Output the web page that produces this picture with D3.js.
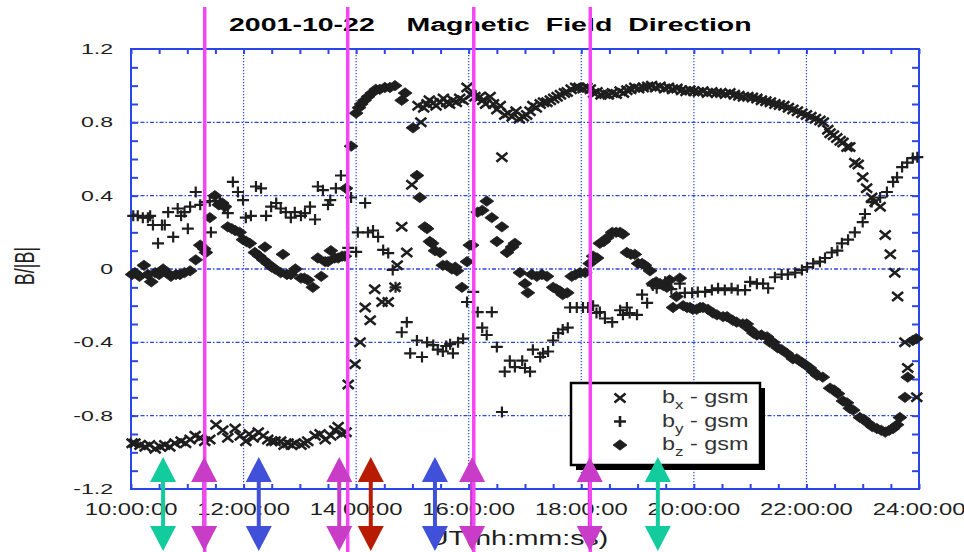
<!DOCTYPE html>
<html>
<head>
<meta charset="utf-8">
<script src="https://cdn.jsdelivr.net/npm/d3@7"></script>
<style>
  body { margin: 0; background: #fff; }
  svg { display: block; font-family: "Liberation Sans", Arial, sans-serif; }
</style>
</head>
<body>
<div id="chart"></div>
<script>
// data: [hour UT, B/|B|]
const bx = [
  [10.02,-0.95],[10.07,-0.95],[10.16,-0.96],[10.25,-0.97],[10.33,-0.96],[10.43,-0.98],[10.52,-0.97],[10.60,-0.96],
  [10.69,-0.97],[10.78,-0.95],[10.89,-0.94],[10.97,-0.95],[11.05,-0.93],[11.14,-0.91],[11.23,-0.92],[11.31,-0.94],
  [11.40,-0.93],[11.51,-0.85],[11.63,-0.88],[11.72,-0.92],[11.85,-0.87],[11.94,-0.91],[12.04,-0.94],[12.10,-0.90],
  [12.17,-0.92],[12.26,-0.89],[12.35,-0.91],[12.43,-0.93],[12.50,-0.94],[12.56,-0.94],[12.66,-0.94],[12.72,-0.96],
  [12.79,-0.95],[12.85,-0.96],[12.91,-0.95],[13.02,-0.96],[13.08,-0.95],[13.14,-0.94],[13.27,-0.91],[13.36,-0.90],
  [13.45,-0.93],[13.55,-0.91],[13.62,-0.88],[13.68,-0.86],[13.75,-0.90],[13.82,-0.89],
  [13.86,-0.63],[13.98,-0.52],[14.07,-0.40],[14.16,-0.21],[14.25,-0.28],[14.33,-0.11],[14.46,-0.18],[14.57,-0.18],
  [14.69,-0.10],[14.73,0.02],[14.81,0.23],[14.90,0.09],[14.99,0.46],[15.10,0.89],[15.15,0.80],[15.20,0.88],
  [15.26,0.90],[15.30,0.92],[15.37,0.905],[15.42,0.89],[15.49,0.91],[15.55,0.93],[15.61,0.91],[15.66,0.90],
  [15.72,0.92],[15.78,0.91],[15.84,0.93],[15.90,0.92],[15.97,0.99],[16.04,0.95],[16.11,0.94],[16.20,0.94],
  [16.25,0.92],[16.30,0.90],[16.38,0.94],[16.44,0.90],[16.50,0.87],[16.56,0.89],[16.59,0.61],[16.64,0.84],
  [16.70,0.85],[16.77,0.83],[16.84,0.86],[16.90,0.82],[16.97,0.83],[17.03,0.84],[17.09,0.86],[17.14,0.89],
  [17.20,0.88],[17.27,0.90],[17.33,0.91],[17.39,0.91],[17.45,0.92],[17.51,0.93],[17.57,0.94],[17.63,0.95],
  [17.70,0.96],[17.75,0.965],[17.82,0.98],[17.90,0.99],[17.96,0.99],[18.03,0.985],[18.10,0.99],[18.16,0.98],
  [18.22,0.96],[18.28,0.965],[18.35,0.95],[18.42,0.955],[18.48,0.95],[18.55,0.96],[18.62,0.955],[18.69,0.97],
  [18.75,0.96],[18.81,0.975],[18.88,0.98],[18.95,0.99],[19.02,0.985],[19.10,0.99],[19.18,0.995],[19.25,1.0],
  [19.32,0.99],[19.40,0.995],[19.48,0.985],[19.55,0.99],[19.62,0.98],[19.70,0.985],[19.78,0.975],[19.86,0.97],
  [19.93,0.975],[20.00,0.97],[20.08,0.965],[20.16,0.97],[20.24,0.96],[20.32,0.965],[20.40,0.96],[20.48,0.96],
  [20.56,0.955],[20.64,0.96],[20.72,0.95],[20.80,0.945],[20.88,0.94],[20.96,0.94],[21.04,0.935],[21.12,0.93],
  [21.20,0.92],[21.28,0.915],[21.36,0.91],[21.44,0.90],[21.52,0.895],[21.60,0.89],[21.68,0.88],[21.76,0.87],
  [21.84,0.86],[21.92,0.85],[22.00,0.84],[22.08,0.83],[22.16,0.82],[22.24,0.81],[22.30,0.80],[22.38,0.76],
  [22.42,0.74],[22.48,0.73],[22.54,0.715],[22.60,0.70],[22.65,0.69],[22.72,0.665],[22.77,0.665],[22.86,0.58],
  [22.92,0.57],[23.00,0.50],[23.07,0.44],[23.16,0.39],[23.22,0.365],[23.31,0.34],[23.40,0.185],[23.49,0.08],
  [23.57,-0.02],[23.62,-0.15],[23.75,-0.40],[23.80,-0.54],[23.96,-0.70]
];

const by = [
  [10.04,0.29],[10.12,0.29],[10.21,0.28],[10.30,0.28],[10.34,0.29],[10.39,0.24],[10.48,0.14],[10.55,0.24],
  [10.60,0.24],[10.66,0.31],[10.75,0.175],[10.83,0.33],[10.89,0.29],[10.95,0.31],[11.01,0.22],[11.05,0.34],
  [11.15,0.42],[11.23,0.35],[11.31,0.365],[11.40,0.37],[11.42,0.20],[11.50,0.37],[11.58,0.365],[11.65,0.33],
  [11.72,0.305],[11.81,0.475],[11.90,0.42],[11.99,0.376],[12.04,0.28],[12.13,0.29],[12.22,0.45],[12.31,0.44],
  [12.40,0.29],[12.49,0.34],[12.58,0.36],[12.66,0.33],[12.75,0.31],[12.84,0.28],[12.91,0.31],[13.02,0.29],
  [13.09,0.305],[13.18,0.34],[13.27,0.27],[13.32,0.45],[13.41,0.43],[13.50,0.35],[13.54,0.376],[13.64,0.44],
  [13.73,0.51],[13.86,0.115],[13.91,0.39],[14.00,0.093],[14.03,0.20],[14.16,0.36],[14.21,0.20],[14.30,0.21],
  [14.39,0.175],[14.48,0.104],[14.57,0.087],[14.65,-0.005],[14.70,-0.10],[14.81,-0.345],[14.90,-0.29],[14.96,-0.46],
  [15.08,-0.39],[15.17,-0.48],[15.26,-0.40],[15.37,-0.415],[15.45,-0.44],[15.54,-0.45],[15.60,-0.42],[15.67,-0.41],
  [15.72,-0.46],[15.81,-0.40],[15.90,-0.38],[15.97,-0.18],[16.08,-0.125],[16.16,-0.235],[16.24,-0.32],[16.32,-0.36],
  [16.41,-0.235],[16.50,-0.425],[16.59,-0.78],[16.64,-0.56],[16.73,-0.50],[16.82,-0.535],[16.95,-0.50],[17.00,-0.54],
  [17.09,-0.56],[17.14,-0.44],[17.27,-0.48],[17.32,-0.46],[17.41,-0.45],[17.50,-0.39],[17.59,-0.35],[17.67,-0.33],
  [17.76,-0.32],[17.80,-0.21],[17.92,-0.21],[18.03,-0.21],[18.12,-0.21],[18.21,-0.20],[18.27,-0.24],[18.33,-0.235],
  [18.42,-0.27],[18.55,-0.29],[18.69,-0.225],[18.74,-0.25],[18.81,-0.21],[18.86,-0.24],[18.99,-0.25],[19.08,-0.14],
  [19.17,-0.185],[19.27,-0.09],[19.34,-0.105],[19.49,-0.07],[19.60,-0.11],[19.75,-0.08],[19.84,-0.13],[19.97,-0.13],
  [20.07,-0.125],[20.20,-0.125],[20.32,-0.115],[20.43,-0.105],[20.55,-0.115],[20.67,-0.105],[20.78,-0.115],[20.91,-0.115],
  [21.00,-0.07],[21.12,-0.08],[21.23,-0.08],[21.32,-0.105],[21.44,-0.045],[21.56,-0.03],[21.67,-0.03],[21.80,-0.02],
  [21.92,-0.005],[22.01,0.01],[22.12,0.03],[22.24,0.04],[22.33,0.06],[22.45,0.09],[22.55,0.10],[22.63,0.14],
  [22.74,0.16],[22.86,0.20],[23.00,0.256],[23.04,0.30],[23.16,0.365],[23.31,0.39],[23.43,0.42],[23.54,0.475],
  [23.61,0.50],[23.70,0.556],[23.79,0.58],[23.89,0.605],[23.97,0.61]
];

const bz = [
  [10.02,-0.03],[10.07,-0.02],[10.15,-0.04],[10.23,0.02],[10.30,-0.03],[10.36,-0.07],[10.43,-0.02],[10.50,-0.03],
  [10.57,0.00],[10.64,-0.02],[10.71,-0.04],[10.80,-0.03],[10.87,-0.03],[10.95,-0.02],[11.05,-0.01],[11.15,0.05],
  [11.23,0.13],[11.30,0.11],[11.33,0.09],[11.40,0.28],[11.49,0.40],[11.56,0.35],[11.62,0.36],[11.67,0.34],
  [11.72,0.23],[11.79,0.22],[11.85,0.21],[11.93,0.20],[11.99,0.16],[12.05,0.15],[12.11,0.14],[12.20,0.09],
  [12.28,0.07],[12.35,0.05],[12.38,0.12],[12.43,0.03],[12.50,0.01],[12.56,0.00],[12.66,-0.02],[12.70,0.08],
  [12.77,-0.03],[12.84,-0.03],[12.92,0.00],[13.02,-0.05],[13.08,-0.05],[13.14,-0.06],[13.23,-0.10],[13.32,0.06],
  [13.38,-0.04],[13.45,0.04],[13.50,0.04],[13.55,0.10],[13.62,0.06],[13.68,0.06],[13.75,0.07],[13.80,0.07],
  [13.82,0.44],[13.91,0.67],[14.00,0.85],[14.05,0.88],[14.09,0.90],[14.15,0.92],[14.21,0.94],[14.28,0.96],
  [14.35,0.98],[14.42,0.98],[14.51,0.99],[14.60,0.99],[14.69,1.00],[14.81,0.92],[14.87,0.96],[15.01,0.77],
  [15.08,0.51],[15.13,0.39],[15.22,0.23],[15.26,0.22],[15.31,0.15],[15.35,0.14],[15.40,0.10],[15.49,0.09],
  [15.54,0.02],[15.61,0.02],[15.70,0.00],[15.76,0.01],[15.79,-0.01],[15.88,-0.10],[15.97,0.04],[16.02,0.13],
  [16.06,0.13],[16.16,0.31],[16.24,0.32],[16.32,0.37],[16.41,0.28],[16.50,0.15],[16.59,0.23],[16.68,0.09],
  [16.77,0.12],[16.82,0.14],[16.91,-0.02],[17.00,-0.08],[17.05,-0.13],[17.12,-0.03],[17.21,-0.04],[17.30,-0.03],
  [17.39,-0.04],[17.50,-0.10],[17.56,-0.11],[17.62,-0.12],[17.67,-0.14],[17.75,-0.13],[17.83,-0.04],[17.90,-0.03],
  [17.98,-0.02],[18.07,-0.02],[18.15,0.03],[18.21,0.07],[18.28,0.06],[18.33,0.14],[18.40,0.15],[18.46,0.17],
  [18.55,0.20],[18.62,0.20],[18.69,0.20],[18.74,0.19],[18.81,0.09],[18.88,0.08],[18.95,0.08],[19.01,0.03],
  [19.08,0.03],[19.13,0.02],[19.22,-0.01],[19.27,-0.08],[19.33,-0.07],[19.40,-0.08],[19.46,-0.09],[19.52,-0.10],
  [19.57,-0.06],[19.63,-0.21],[19.69,-0.15],[19.75,-0.05],[19.81,-0.20],[19.88,-0.21],[19.93,-0.21],[19.98,-0.22],
  [20.05,-0.22],[20.11,-0.21],[20.16,-0.21],[20.25,-0.22],[20.34,-0.24],[20.41,-0.25],[20.52,-0.26],[20.59,-0.26],
  [20.69,-0.28],[20.76,-0.29],[20.87,-0.30],[20.94,-0.30],[21.00,-0.33],[21.06,-0.35],[21.12,-0.36],[21.20,-0.36],
  [21.30,-0.37],[21.35,-0.40],[21.41,-0.40],[21.49,-0.43],[21.56,-0.44],[21.65,-0.46],[21.76,-0.49],[21.83,-0.49],
  [21.92,-0.51],[21.97,-0.52],[22.06,-0.54],[22.12,-0.56],[22.19,-0.58],[22.29,-0.59],[22.42,-0.65],[22.49,-0.66],
  [22.56,-0.68],[22.65,-0.72],[22.72,-0.73],[22.77,-0.76],[22.83,-0.77],[22.95,-0.81],[23.02,-0.82],[23.09,-0.84],
  [23.17,-0.86],[23.25,-0.87],[23.33,-0.88],[23.40,-0.89],[23.47,-0.88],[23.54,-0.87],[23.61,-0.85],[23.66,-0.81],
  [23.75,-0.70],[23.80,-0.59],[23.89,-0.39],[23.95,-0.38]
];

// axis ticks and labels
const xTickHours = [10, 12, 14, 16, 18, 20, 22, 24];
const yTickValues = [-1.2, -0.8, -0.4, 0, 0.4, 0.8, 1.2];

// vertical event lines and the arrows under the plot
const eventTimes = [11.31, 13.85, 16.09, 18.16];
const arrowTimes = [10.57, 11.30, 12.27, 13.70, 14.26, 15.40, 16.06, 18.15, 19.36];
const arrowKinds = ['teal', 'mag', 'blue', 'mag', 'red', 'blue', 'mag', 'mag', 'teal'];

const legendItems = [
  { sym: 'x', sub: 'x' },
  { sym: 'y', sub: 'y' },
  { sym: 'z', sub: 'z' }
];

// ---------------------------------------------------------------
const width = 964;
const height = 552;
const blue = '#2b46e8';
const ink = '#1e1e1e';
const arrowColor = { teal: '#12cc9e', mag: '#c83cc8', blue: '#4150d8', red: '#b81c00' };

const svg = d3.select('#chart')
  .append('svg')
    .attr('width', width)
    .attr('height', height);

const x = d3.scaleLinear().domain([10, 24]).range([131, 919]);
const y = d3.scaleLinear().domain([-1.2, 1.2]).range([489, 49]);

// grid
svg.append('g')
  .selectAll('line')
  .data(yTickValues.filter(v => Math.abs(v) < 1.2))
  .join('line')
    .attr('x1', x(10)).attr('x2', x(24))
    .attr('y1', d => y(d)).attr('y2', d => y(d))
    .attr('stroke', blue)
    .attr('stroke-width', 1.4)
    .attr('stroke-dasharray', '4,2,1.5,2');

svg.append('g')
  .selectAll('line')
  .data(xTickHours.filter(h => h > 10 && h < 24))
  .join('line')
    .attr('x1', d => x(d)).attr('x2', d => x(d))
    .attr('y1', y(1.2)).attr('y2', y(-1.2))
    .attr('stroke', blue)
    .attr('stroke-width', 1.2)
    .attr('stroke-dasharray', '1.2,1.8');

// inward minor ticks on all four sides
const yMinor = d3.range(-11, 12).map(v => v / 10);
const xMinor = d3.range(20, 49).map(v => v / 2);

function styleTicks(g) {
  g.select('.domain').remove();
  g.selectAll('line').attr('stroke', blue).attr('stroke-width', 2);
}

svg.append('g')
    .attr('transform', `translate(${x(10)},0)`)
    .call(d3.axisLeft(y).tickValues(yMinor).tickSize(-7).tickFormat(''))
    .call(styleTicks);
svg.append('g')
    .attr('transform', `translate(${x(24)},0)`)
    .call(d3.axisRight(y).tickValues(yMinor).tickSize(-7).tickFormat(''))
    .call(styleTicks);
svg.append('g')
    .attr('transform', `translate(0,${y(1.2)})`)
    .call(d3.axisTop(x).tickValues(xMinor).tickSize(-5).tickFormat(''))
    .call(styleTicks);
svg.append('g')
    .attr('transform', `translate(0,${y(-1.2)})`)
    .call(d3.axisBottom(x).tickValues(xMinor).tickSize(-5).tickFormat(''))
    .call(styleTicks);

// frame
svg.append('rect')
    .attr('x', x(10))
    .attr('y', y(1.2))
    .attr('width', x(24) - x(10))
    .attr('height', y(-1.2) - y(1.2))
    .attr('fill', 'none')
    .attr('stroke', blue)
    .attr('stroke-width', 2);

// tick labels (the picture is stretched sideways, so the text is too)
svg.append('g')
  .selectAll('text')
  .data(yTickValues)
  .join('text')
    .attr('transform', d => `translate(113,${y(d) + 5}) scale(1.65,1)`)
    .attr('text-anchor', 'end')
    .attr('font-size', 14)
    .attr('fill', ink)
    .text(d => d === 0 ? '0' : d.toFixed(1));

svg.append('g')
  .selectAll('text')
  .data(xTickHours)
  .join('text')
    .attr('transform', d => `translate(${x(d)},515) scale(1.37,1)`)
    .attr('text-anchor', 'middle')
    .attr('font-size', 17.4)
    .attr('fill', ink)
    .text(d => d + ':00:00');

// axis titles
svg.append('text')
    .attr('transform', 'translate(518,545) scale(1.46,1)')
    .attr('text-anchor', 'middle')
    .attr('font-size', 19.5)
    .attr('fill', ink)
    .text('UT(hh:mm:ss)');

svg.append('text')
    .attr('transform', 'translate(34,266) rotate(-90) scale(1,1.5)')
    .attr('text-anchor', 'middle')
    .attr('font-size', 18)
    .attr('fill', ink)
    .text('B/|B|');

// title
svg.append('text')
    .attr('transform', 'translate(229,31) scale(1.5,1)')
    .attr('font-size', 19)
    .attr('font-weight', 'bold')
    .attr('fill', '#000')
    .style('white-space', 'pre')
    .text('2001-10-22    Magnetic  Field  Direction');

// markers
const markerPath = {
  x: 'M-5.5,-4.5L5.5,4.5M-5.5,4.5L5.5,-4.5',
  y: 'M-6,0H6M0,-5.5V5.5',
  z: 'M-7,0L0,-5.2L7,0L0,5.2Z'
};

function drawSeries(data, sym) {
  svg.append('g')
    .selectAll('path')
    .data(data)
    .join('path')
      .attr('d', markerPath[sym])
      .attr('transform', d => `translate(${x(d[0])},${y(d[1])})`)
      .attr('fill', sym === 'z' ? ink : 'none')
      .attr('stroke', ink)
      .attr('stroke-width', sym === 'z' ? 0.8 : sym === 'x' ? 2.5 : 2.2);
}

drawSeries(bx, 'x');
drawSeries(by, 'y');
drawSeries(bz, 'z');

// legend
const legend = svg.append('g');
legend.append('rect')
    .attr('x', 576).attr('y', 388)
    .attr('width', 189).attr('height', 82)
    .attr('fill', '#000');
legend.append('rect')
    .attr('x', 571).attr('y', 383)
    .attr('width', 189).attr('height', 82)
    .attr('fill', '#fff')
    .attr('stroke', '#000')
    .attr('stroke-width', 2.5);

const rows = legend.selectAll('.row')
  .data(legendItems)
  .join('g')
    .attr('class', 'row')
    .attr('transform', (d, i) => `translate(0,${398 + i * 23.5})`);

rows.append('path')
    .attr('d', d => markerPath[d.sym])
    .attr('transform', 'translate(620,0)')
    .attr('fill', d => d.sym === 'z' ? ink : 'none')
    .attr('stroke', ink)
    .attr('stroke-width', d => d.sym === 'z' ? 0.8 : 2.6);

const rowText = rows.append('text')
    .attr('transform', 'translate(662,5) scale(1.3,1)')
    .attr('font-size', 18)
    .attr('fill', '#333')
    .style('white-space', 'pre');
rowText.append('tspan').text('b');
rowText.append('tspan').attr('font-size', 13).attr('dy', 6).text(d => d.sub);
rowText.append('tspan').attr('dy', -6).text(' - gsm');

// arrows: shafts, then event lines, then heads
const arrows = svg.append('g')
  .selectAll('g')
  .data(arrowTimes.map((t, i) => ({ t, kind: arrowKinds[i] })))
  .join('g')
    .attr('transform', d => `translate(${x(d.t)},0)`);

arrows.append('rect')
    .attr('x', -2).attr('y', 478)
    .attr('width', 4).attr('height', 50)
    .attr('fill', d => arrowColor[d.kind]);

svg.append('g')
  .selectAll('line')
  .data(eventTimes)
  .join('line')
    .attr('x1', d => x(d)).attr('x2', d => x(d))
    .attr('y1', 7).attr('y2', height)
    .attr('stroke', '#f545f5')
    .attr('stroke-width', 3.5);

const heads = svg.append('g')
  .selectAll('g')
  .data(arrowTimes.map((t, i) => ({ t, kind: arrowKinds[i] })))
  .join('g')
    .attr('transform', d => `translate(${x(d.t)},0)`)
    .attr('fill', d => arrowColor[d.kind]);

heads.append('path').attr('d', 'M0,457L-13,482L13,482Z');
heads.append('path').attr('d', 'M-13,526L13,526L0,551Z');
</script>
</body>
</html>
